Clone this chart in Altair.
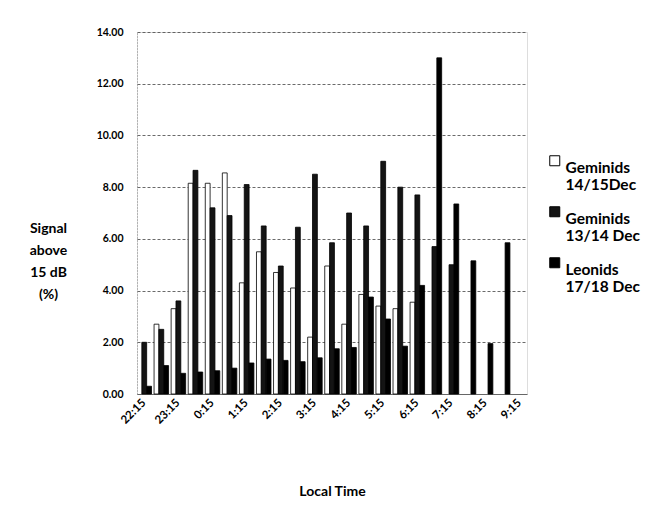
import altair as alt
import pandas as pd

times = ["22:15", "22:45", "23:15", "23:45", "0:15", "0:45", "1:15", "1:45",
         "2:15", "2:45", "3:15", "3:45", "4:15", "4:45", "5:15", "5:45",
         "6:15", "6:45", "7:15", "7:45", "8:15", "8:45", "9:15"]
series_names = ["Geminids|14/15Dec", "Geminids|13/14 Dec", "Leonids|17/18 Dec"]
gem1415 = [None, 2.7, 3.3, 8.15, 8.15, 8.55, 4.3, 5.5, 4.7, 4.1, 2.2, 4.95,
           2.7, 3.85, 3.4, 3.3, 3.55, None, None, None, None, None, None]
gem1314 = [2.0, 2.5, 3.6, 8.65, 7.2, 6.9, 8.1, 6.5, 4.95, 6.45, 8.5, 5.85,
           7.0, 6.5, 9.0, 8.0, 7.7, 5.7, 5.0, None, None, None, None]
leonids = [0.3, 1.1, 0.8, 0.85, 0.9, 1.0, 1.2, 1.35, 1.3, 1.25, 1.4, 1.75,
           1.8, 3.75, 2.9, 1.85, 4.2, 13.0, 7.35, 5.15, 1.95, 5.85, None]

rows = []
for name, vals in zip(series_names, [gem1415, gem1314, leonids]):
    for t, v in zip(times, vals):
        if v is not None:
            rows.append({"time": t, "series": name, "value": v})
df = pd.DataFrame(rows)

FONT = "Lato"

chart = alt.Chart(df).mark_bar(stroke="black", strokeWidth=0.8).encode(
    x=alt.X("time:N", sort=times,
            scale=alt.Scale(domain=times, paddingInner=0.15, paddingOuter=0.0),
            axis=alt.Axis(values=times[::2], labelAngle=-45, labelAlign="right",
                          labelBaseline="middle", labelFont=FONT, labelFontWeight="bold",
                          labelFontSize=11.5, labelColor="black", labelPadding=7,
                          ticks=False, domainColor="#666", domainWidth=1,
                          title="Local Time", titleFont=FONT, titleFontWeight="bold",
                          titleFontSize=14, titleColor="black", titleY=97,
                          titleBaseline="middle")),
    xOffset=alt.XOffset("series:N", sort=series_names,
                        scale=alt.Scale(paddingInner=0, paddingOuter=0)),
    y=alt.Y("value:Q", scale=alt.Scale(domain=[0, 14], nice=False),
            axis=alt.Axis(values=[0, 2, 4, 6, 8, 10, 12, 14], format=".2f",
                          labelFont=FONT, labelFontWeight="bold", labelFontSize=10.5,
                          labelColor="black", labelPadding=14, ticks=False,
                          domainColor="#888", domainDash=[1, 2],
                          gridColor="#444", gridDash=[3, 2], gridWidth=0.8,
                          title=["Signal", "above", "15 dB", "(%)"], titleAngle=0,
                          titleAlign="center", titleBaseline="top",
                          titleX=-89, titleY=189, titleLineHeight=22,
                          titleFont=FONT, titleFontWeight="bold", titleFontSize=14,
                          titleColor="black")),
    color=alt.Color("series:N", sort=series_names,
                    scale=alt.Scale(domain=series_names,
                                    range=["#ffffff", "#141414", "#000000"]),
                    legend=alt.Legend(title=None, orient="none", legendX=410,
                                      legendY=121, symbolType="square",
                                      symbolSize=100, symbolStrokeColor="black",
                                      symbolStrokeWidth=1,
                                      labelExpr="split(datum.label, '|')",
                                      labelFont=FONT, labelFontSize=15.5,
                                      labelFontWeight="bold", labelColor="black",
                                      labelBaseline="top", labelOffset=3,
                                      rowPadding=10, labelLimit=200)),
).properties(
    width=390, height=362,
    autosize=alt.AutoSizeParams(type="none"),
    padding={"left": 137, "top": 32, "right": 143, "bottom": 137},
).configure_view(stroke=None).configure(background="white")

chart.save("out.html", embed_options={"renderer": "svg", "actions": False})
